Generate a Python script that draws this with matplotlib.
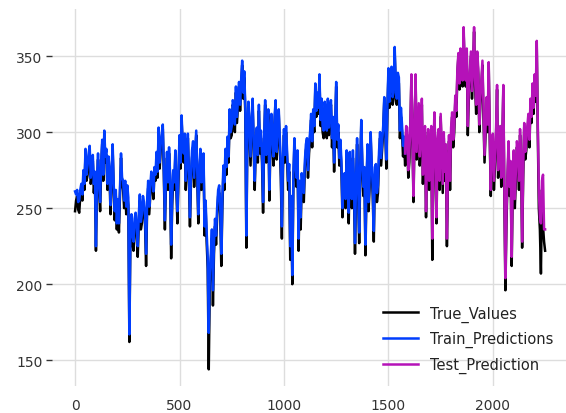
import matplotlib
matplotlib.use("Agg")
import matplotlib.pyplot as plt
import numpy as np

step = 5
# readings at t = 0, 10, 20, ...
true_values = [
    248, 258, 247, 262, 270, 286, 272, 288, 270, 260,
    222, 282, 248, 292, 298, 285, 278, 246, 288, 242,
    236, 234, 283, 262, 264, 258, 162, 240, 222, 243,
    218, 255, 240, 250, 212, 263, 258, 266, 272, 282,
    300, 288, 302, 236, 283, 286, 217, 270, 284, 240,
    293, 308, 280, 262, 296, 238, 283, 264, 298, 240,
    285, 268, 232, 228, 144, 214, 186, 238, 244, 260,
    212, 273, 284, 292, 312, 298, 314, 326, 318, 314,
    344, 336, 224, 316, 278, 318, 262, 298, 314, 296,
    247, 318, 298, 255, 308, 278, 318, 298, 292, 230,
    298, 300, 262, 216, 200, 292, 264, 222, 236, 258,
    276, 292, 286, 308, 310, 328, 322, 335, 318, 296,
    308, 318, 312, 290, 274, 330, 300, 290, 244, 268,
    283, 240, 264, 283, 220, 292, 227, 305, 258, 219,
    288, 264, 274, 228, 274, 260, 296, 289, 320, 276,
    338, 330, 318, 352, 318, 332, 310, 284, 278, 298,
    280, 336, 254, 336, 298, 278, 318, 288, 244, 298,
    284, 216, 310, 240, 298, 310, 260, 268, 225, 294,
    298, 290, 320, 338, 328, 344, 366, 330, 298, 338,
    322, 366, 312, 338, 318, 344, 280, 318, 344, 258,
    294, 278, 328, 288, 264, 328, 196, 268, 258, 212,
    284, 268, 284, 298, 224, 303, 288, 308, 318, 328,
    334, 356, 250, 207, 238, 222,
]
# readings at t = 5, 15, 25, ...
true_values_mid = [
    255, 249, 258, 255, 262, 268, 283, 266, 281, 270,
    265, 262, 276, 268, 280, 262, 270, 272, 262, 258,
    252, 258, 266, 250, 246, 252, 232, 226, 238, 232,
    240, 236, 254, 240, 250, 246, 270, 256, 268, 270,
    276, 296, 272, 266, 262, 268, 252, 262, 262, 268,
    276, 290, 296, 278, 270, 268, 290, 282, 268, 270,
    262, 282, 250, 210, 200, 230, 220, 226, 258, 246,
    250, 262, 272, 280, 296, 318, 300, 306, 330, 330,
    322, 312, 300, 296, 306, 290, 290, 280, 286, 280,
    292, 280, 312, 290, 290, 306, 282, 312, 270, 276,
    280, 282, 274, 252, 266, 276, 284, 262, 268, 254,
    288, 270, 296, 290, 300, 310, 312, 304, 300, 316,
    296, 298, 318, 306, 300, 290, 278, 276, 262, 250,
    270, 282, 250, 262, 262, 258, 272, 276, 272, 262,
    248, 296, 258, 272, 254, 282, 278, 300, 300, 312,
    316, 340, 322, 328, 336, 296, 300, 292, 300, 270,
    300, 296, 300, 282, 316, 296, 266, 300, 282, 262,
    300, 278, 284, 290, 262, 284, 296, 288, 270, 262,
    310, 300, 310, 350, 352, 330, 340, 352, 326, 350,
    340, 330, 350, 300, 330, 310, 300, 300, 296, 290,
    262, 296, 270, 300, 290, 256, 240, 290, 276, 262,
    250, 290, 262, 280, 270, 282, 300, 290, 306, 312,
    320, 300, 236, 262, 228,
]
train_predictions = [
    261, 262, 255, 266, 275, 289, 278, 291, 276, 266,
    225, 286, 254, 295, 301, 289, 284, 252, 292, 248,
    240, 240, 286, 268, 268, 265, 167, 246, 228, 247,
    225, 259, 246, 254, 220, 268, 264, 270, 277, 287,
    303, 292, 305, 242, 287, 290, 226, 275, 288, 248,
    298, 311, 286, 268, 299, 244, 288, 270, 301, 246,
    289, 273, 238, 234, 168, 220, 196, 243, 250, 265,
    220, 278, 289, 297, 315, 304, 318, 330, 322, 318,
    347, 340, 232, 320, 284, 322, 268, 303, 318, 301,
    254, 321, 303, 262, 312, 284, 321, 303, 297, 238,
    302, 304, 268, 225, 206, 296, 270, 230, 244, 263,
    281, 296, 291, 312, 315, 332, 326, 338, 322, 301,
    312, 322, 316, 296, 280, 333, 305, 295, 250, 273,
    288, 247, 269, 288, 227, 296, 234, 308, 264, 226,
    292, 269, 279, 235, 279, 265, 300, 293, 323, 282,
    342, 334, 323, 356, 322, 336, 316, 291, 286,
]
train_predictions_mid = [
    259, 254, 262, 259, 266, 272, 286, 270, 285, 274,
    268, 266, 280, 272, 284, 266, 274, 276, 266, 262,
    256, 262, 270, 255, 251, 257, 238, 232, 243, 237,
    245, 241, 258, 245, 255, 251, 274, 261, 272, 274,
    280, 299, 276, 271, 267, 272, 258, 267, 266, 272,
    280, 293, 299, 282, 274, 273, 294, 286, 273, 275,
    267, 286, 255, 217, 208, 236, 227, 232, 262, 251,
    255, 267, 277, 284, 300, 321, 305, 310, 333, 334,
    326, 316, 305, 301, 310, 295, 295, 285, 291, 285,
    296, 285, 315, 295, 295, 310, 287, 315, 276, 281,
    285, 287, 279, 258, 272, 281, 288, 268, 273, 260,
    292, 275, 300, 294, 304, 314, 316, 308, 304, 320,
    301, 303, 321, 310, 305, 295, 283, 281, 268, 256,
    275, 287, 256, 268, 268, 264, 277, 281, 277, 268,
    254, 300, 264, 277, 260, 287, 283, 304, 304, 316,
    320, 343, 326, 332, 339, 301, 305, 297,
]
test_prediction = [
    286, 303, 286, 338, 258, 338, 303, 284, 322, 293,
    248, 302, 290, 230, 313, 244, 302, 312, 266, 274,
    230, 298, 303, 295, 324, 341, 332, 347, 369, 334,
    304, 342, 327, 369, 318, 342, 322, 347, 285, 323,
    346, 262, 299, 284, 331, 293, 270, 331, 204, 273,
    264, 218, 288, 274, 288, 302, 228, 306, 293, 312,
    322, 332, 338, 360, 262, 240, 272, 236,
]
test_prediction_mid = [
    304, 275,
    304, 300, 304, 287, 319, 300, 272, 304, 287, 268,
    304, 283, 289, 295, 268, 289, 300, 292, 275, 268,
    313, 304, 314, 352, 355, 334, 344, 355, 330, 353,
    344, 334, 353, 305, 334, 315, 305, 305, 300, 295,
    268, 300, 275, 304, 294, 262, 246, 294, 281, 268,
    256, 294, 268, 285, 276, 287, 304, 295, 310, 316,
    324, 305, 244, 268, 236,
]


def interleave(main, mid):
    out = []
    for a, b in zip(main, mid):
        out.extend([a, b])
    out.append(main[len(mid)])
    return out


y_true = interleave(true_values, true_values_mid)
y_train = interleave(train_predictions, train_predictions_mid)
y_test = interleave(test_prediction, test_prediction_mid)

t_true = np.arange(len(y_true)) * step
t_train = np.arange(len(y_train)) * step
t_test = t_train[-1] + np.arange(len(y_test)) * step

fig = plt.figure(figsize=(5.66, 4.14), dpi=100)
ax = fig.add_axes([0.092, 0.065, 0.908, 0.911])

ax.plot(t_true, y_true, color="#000000", lw=1.8, label="True_Values")
ax.plot(t_train, y_train, color="#003DFD", lw=1.8, label="Train_Predictions")
ax.plot(t_test, y_test, color="#B512B8", lw=1.8, label="Test_Prediction")

ax.set_xlim(-110, 2350)
ax.set_ylim(133, 381)
ax.set_xticks([0, 500, 1000, 1500, 2000])
ax.set_yticks([150, 200, 250, 300, 350])
for s in ax.spines.values():
    s.set_visible(False)
ax.grid(True, color="#dddddd", lw=1)
ax.set_axisbelow(True)
ax.tick_params(axis="x", length=0, pad=8.5, labelsize=10, labelcolor="#333333")
ax.tick_params(axis="y", length=4, width=1, color="#333333", pad=3, labelsize=10, labelcolor="#333333")

leg = ax.legend(loc="lower right", frameon=False, fontsize=10.5, handlelength=2.4,
                handletextpad=0.8, labelspacing=0.65)
for txt in leg.get_texts():
    txt.set_color("#222222")

fig.savefig("out.png", dpi=100)
